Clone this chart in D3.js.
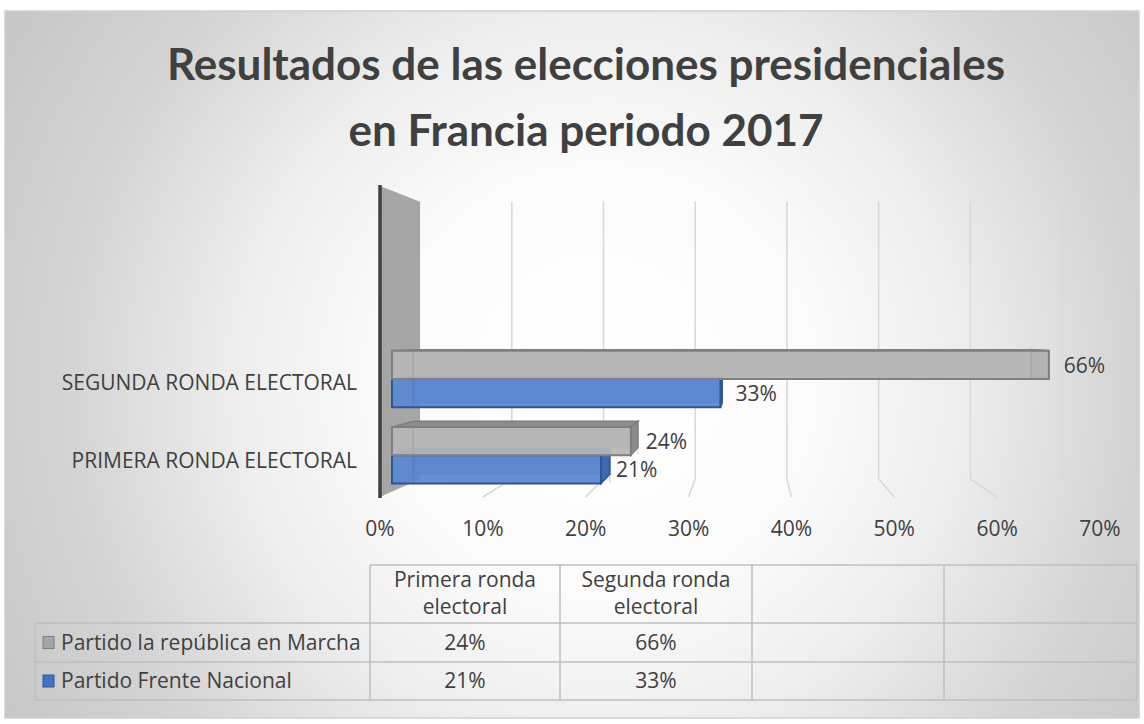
<!DOCTYPE html>
<html><head><meta charset="utf-8">
<script src="https://cdn.jsdelivr.net/npm/d3@7"></script>
<style>body{margin:0;background:#fff;} svg{display:block;font-family:"Open Sans",Lato,sans-serif;}</style>
</head><body><svg id="c" width="1144" height="724"></svg>
<script>
// ---- data ----
const categories = ["Primera ronda electoral", "Segunda ronda electoral"];
const categoryLabels = ["PRIMERA RONDA ELECTORAL", "SEGUNDA RONDA ELECTORAL"];
const seriesNames = ["Partido la república en Marcha", "Partido Frente Nacional"];
const marchaValues = [0.24, 0.66];
const frenteValues = [0.21, 0.33];
const xTicks = [0, 0.1, 0.2, 0.3, 0.4, 0.5, 0.6, 0.7];
const titleLines = ["Resultados de las elecciones presidenciales", "en Francia periodo 2017"];
const headerLines = [["Primera ronda", "electoral"], ["Segunda ronda", "electoral"]];

const seriesValues = [marchaValues, frenteValues];
const svg = d3.select("#c");
const fmt = d3.format(".0%");
const txt = "#404040";
const FS = 21;

// background
const defs = svg.append("defs");
const rg = defs.append("radialGradient").attr("id", "bg").attr("gradientUnits", "userSpaceOnUse")
  .attr("cx", 600).attr("cy", 380).attr("r", 720).attr("fx", 600).attr("fy", 380);
[[0, "#ffffff"], [0.3, "#fbfbfb"], [0.5, "#eeeeee"], [0.74, "#d4d4d4"], [1, "#c4c4c4"]]
  .forEach(([o, c]) => rg.append("stop").attr("offset", o).attr("stop-color", c));
svg.append("rect").attr("x", 5).attr("y", 11).attr("width", 1134).attr("height", 707)
  .attr("fill", "url(#bg)").attr("stroke", "#d0d0d0").attr("stroke-width", 1.5);

// title
svg.append("g").selectAll("text").data(titleLines).join("text")
  .attr("x", 586).attr("y", (d, i) => 80 + i * 66)
  .attr("text-anchor", "middle").attr("font-family", "Lato").attr("font-weight", 700).attr("font-size", 44)
  .attr("fill", txt).text(d => d);

// ---- 3D perspective ----
const VX = 750, VY = 331;
const sBack = 0.8917, sBarF = 0.9676, sBarB = 0.91;
const proj = (x, y, s) => [VX + s * (x - VX), VY + s * (y - VY)];
const x = d3.scaleLinear().domain([0, 0.7]).range([380, 1100]);
const wallTop = 186, floorY = 497;
const y = d3.scaleBand().domain(categories.slice().reverse()).range([346, 494])
  .paddingInner(0.26).paddingOuter(0.07);
const ys = d3.scaleBand().domain(seriesNames).range([0, y.bandwidth()]);
const pts = a => a.map(p => p.join(",")).join(" ");

// side wall
svg.append("polygon")
  .attr("points", pts([proj(x(0), wallTop, 1), proj(x(0), wallTop, sBack), proj(x(0), floorY, sBack), proj(x(0), floorY, 1)]))
  .attr("fill", "#a6a6a6");

// gridlines (back wall + floor)
const grid = svg.append("g").attr("stroke", "#d9d9d9").attr("stroke-width", 1.6).attr("fill", "none");
xTicks.filter(t => t > 0).forEach(t => {
  const a = proj(x(t), wallTop, sBack), b = proj(x(t), floorY, sBack), c = proj(x(t), floorY, 1);
  grid.append("polyline").attr("points", pts([a, b, c]));
});

// axis line
svg.append("line").attr("x1", x(0)).attr("x2", x(0)).attr("y1", wallTop - 1).attr("y2", floorY + 1)
  .attr("stroke", "#404040").attr("stroke-width", 3.5);

// axis labels
svg.append("g").selectAll("text").data(xTicks).join("text")
  .attr("x", d => x(d)).attr("y", 536).attr("text-anchor", "middle")
  .attr("font-size", FS).attr("fill", txt).text(d => fmt(d));

// category labels
svg.append("g").selectAll("text").data(categories).join("text")
  .attr("x", 357).attr("y", d => y(d) + y.bandwidth() / 2 + 9).attr("text-anchor", "end")
  .attr("font-size", FS).attr("fill", txt).text((d, i) => categoryLabels[i]);

// bars
const styles = [
  { front: "#b6b6b6", top: "#8c8c8c", side: "#8c8c8c", back: "#c4c4c4", stroke: "#7f7f7f" },
  { front: "#5b87d0", top: "#3d69b5", side: "#3d69b5", back: "#6e95d6", stroke: "#2f5597" }
];
const bars = [];
categories.forEach((c, ci) => seriesNames.forEach((s, si) => bars.push({ c, ci, s, si, v: seriesValues[si][ci] })));
bars.sort((a, b) => (y(b.c) + ys(b.s)) - (y(a.c) + ys(a.s)));
const gb = svg.append("g");
bars.forEach(d => {
  const st = styles[d.si];
  const x0 = x(0), x1 = x(d.v);
  const yT = y(d.c) + ys(d.s), yB = yT + ys.bandwidth();
  const F = [proj(x0, yT, sBarF), proj(x1, yT, sBarF), proj(x1, yB, sBarF), proj(x0, yB, sBarF)];
  const B = [proj(x0, yT, sBarB), proj(x1, yT, sBarB), proj(x1, yB, sBarB), proj(x0, yB, sBarB)];
  const g = gb.append("g");
  g.append("polygon").attr("points", pts(B)).attr("fill", st.back).attr("stroke", st.stroke).attr("stroke-opacity", 0.35).attr("stroke-width", 1);
  g.append("polygon").attr("points", pts([F[0], F[1], B[1], B[0]])).attr("fill", st.top).attr("stroke", st.stroke).attr("stroke-width", 1.5);
  g.append("polygon").attr("points", pts([F[1], B[1], B[2], F[2]])).attr("fill", st.side).attr("stroke", st.stroke).attr("stroke-width", 1.5);
  g.append("polygon").attr("points", pts(F)).attr("fill", st.front).attr("fill-opacity", 0.93).attr("stroke", st.stroke).attr("stroke-width", 2);
  g.append("line").attr("x1", B[0][0]).attr("y1", F[0][1] + 1).attr("x2", B[0][0]).attr("y2", F[3][1] - 1)
    .attr("stroke", st.stroke).attr("stroke-opacity", 0.3);
  g.append("line").attr("x1", B[1][0]).attr("y1", F[1][1] + 1).attr("x2", B[1][0]).attr("y2", F[2][1] - 1)
    .attr("stroke", st.stroke).attr("stroke-opacity", 0.3);
  const lp = proj(x1, (yT + yB) / 2, sBarF);
  svg.append("text").attr("x", lp[0] + 15).attr("y", lp[1] + 8).attr("font-size", FS)
    .attr("fill", txt).text(fmt(d.v));
});

// ---- data table ----
const colX = [370, 560, 752, 944, 1137];
const rowY = [565, 623, 662, 700];
const tableLeft = 35;
const tb = svg.append("g").attr("stroke", "#bfbfbf").attr("stroke-width", 1.5);
colX.forEach(cx => tb.append("line").attr("x1", cx).attr("x2", cx).attr("y1", rowY[0]).attr("y2", rowY[3]));
tb.append("line").attr("x1", tableLeft).attr("x2", tableLeft).attr("y1", rowY[1]).attr("y2", rowY[3]);
tb.append("line").attr("x1", colX[0]).attr("x2", colX[4]).attr("y1", rowY[0]).attr("y2", rowY[0]);
[rowY[1], rowY[2], rowY[3]].forEach(ry => tb.append("line").attr("x1", tableLeft).attr("x2", colX[4]).attr("y1", ry).attr("y2", ry));

headerLines.forEach((lines, ci) => {
  lines.forEach((l, li) => svg.append("text").attr("x", (colX[ci] + colX[ci + 1]) / 2).attr("y", 587 + li * 27)
    .attr("text-anchor", "middle").attr("font-size", FS).attr("fill", txt).text(l));
});
const legendFill = ["#a5a5a5", "#4472c4"], legendStroke = ["#7f7f7f", "#2f5597"];
seriesNames.forEach((s, si) => {
  const cy = (rowY[si + 1] + rowY[si + 2]) / 2;
  svg.append("rect").attr("x", 43).attr("y", cy - 6).attr("width", 11).attr("height", 12)
    .attr("fill", legendFill[si]).attr("stroke", legendStroke[si]).attr("stroke-width", 1);
  svg.append("text").attr("x", 61).attr("y", cy + 7).attr("font-size", FS).attr("fill", txt).text(s);
  seriesValues[si].forEach((v, ci) => svg.append("text").attr("x", (colX[ci] + colX[ci + 1]) / 2).attr("y", cy + 7)
    .attr("text-anchor", "middle").attr("font-size", FS).attr("fill", txt).text(fmt(v)));
});
</script></body></html>
